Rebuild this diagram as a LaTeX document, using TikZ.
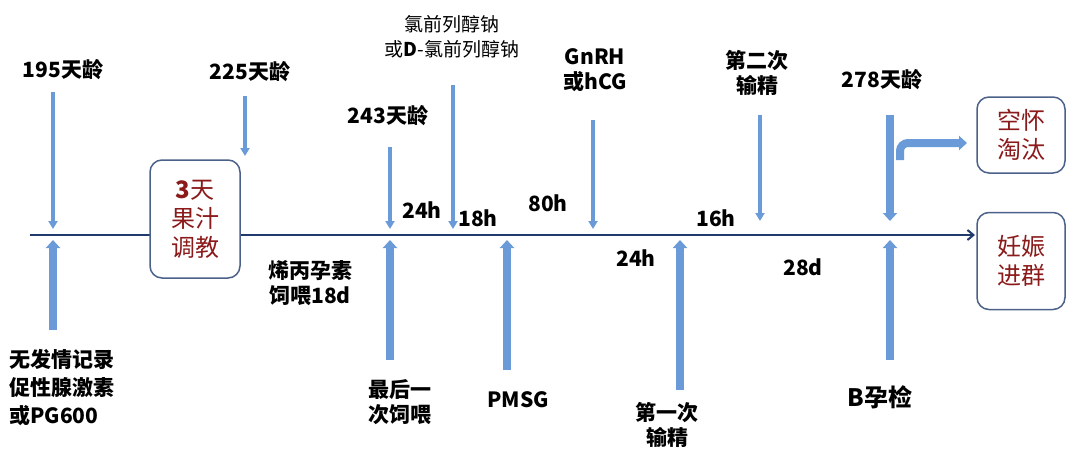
\documentclass[tikz,border=0pt]{standalone}
\usepackage{fontspec}
\setmainfont{Noto Sans CJK SC}
\usetikzlibrary{arrows.meta}
\definecolor{arrblue}{HTML}{6A9BD8}
\definecolor{linenavy}{HTML}{1F3A6B}
\definecolor{boxred}{HTML}{8B1A1A}
\tikzset{
  lbl/.style={font=\fontsize{21}{25}\selectfont\bfseries, align=center, inner sep=1pt},
  stepbox/.style={draw=linenavy!80, line width=1.5pt, rounded corners=12pt, text=boxred,
    font=\fontsize{24}{29}\selectfont, align=center, fill=white},
  thin arr/.style={draw=arrblue, line width=4pt, -{Triangle[width=9pt,length=8pt]}},
  wide arr/.style={draw=arrblue, line width=8pt, -{Triangle[width=14pt,length=8pt]}}
}
\begin{document}
\begin{tikzpicture}[x=1pt,y=-1pt]
\useasboundingbox (0,0) rectangle (1080,463);
% timeline
\coordinate (t0) at (30,235);
\coordinate (t1) at (975,235);
\draw[linenavy, line width=2pt, -{Straight Barb[length=6pt,width=10pt]}] (t0) -- (t1);
\node[stepbox, minimum width=90pt, minimum height=118pt] (juice) at (195,219) {{\bfseries 3}天\\果汁\\调教};
\node[stepbox, minimum width=88pt, minimum height=76pt] (empty) at (1021,135) {空怀\\淘汰};
\node[stepbox, minimum width=88pt, minimum height=97pt] (preg) at (1021,261) {妊娠\\进群};
% arrows from above
\foreach \x/\a/\b in {53/92/229, 245/96/156, 390/147/229, 453/85/229, 593/120/229, 760/115/221}
  \draw[thin arr] (\x,\a) -- (\x,\b);
\draw[wide arr] (890,115) -- (890,221);
\draw[wide arr, rounded corners=8pt] (900,160) -- (900,143) -- (967,143);
% arrows from below
\foreach \x/\a in {53/330, 390/360, 507/370, 680/390, 890/360}
  \draw[wide arr] (\x,\a) -- (\x,240);
% labels
\node[lbl] (l195) at (63,70) {195天龄};
\node[lbl] (l225) at (250,72) {225天龄};
\node[lbl] (l243) at (388,116) {243天龄};
\node[lbl, font=\fontsize{19}{25}\selectfont] (lclo) at (452,37) {氯前列醇钠\\或\textit{\bfseries D}-氯前列醇钠};
\node[lbl] (lgn) at (595,70) {GnRH\\或hCG};
\node[lbl] (lai2) at (757,73) {第二次\\输精};
\node[lbl] (l278) at (882,80) {278天龄};
\node[lbl] (h24a) at (422,210) {24h};
\node[lbl] (h18) at (478,218) {18h};
\node[lbl] (h80) at (548,203) {80h};
\node[lbl] (h16) at (716,218) {16h};
\node[lbl] (h24b) at (636,258) {24h};
\node[lbl] (d28) at (803,267) {28d};
\node[lbl] (feed) at (310,283) {烯丙孕素\\饲喂18d};
\node[lbl, align=left, anchor=west, font=\fontsize{21}{28}\selectfont\bfseries] (noe) at (8,388) {无发情记录\\促性腺激素\\或PG600};
\node[lbl] (last) at (400,402) {最后一\\次饲喂};
\node[lbl] (pmsg) at (518,400) {PMSG};
\node[lbl] (lai1) at (667,425) {第一次\\输精};
\node[lbl, font=\fontsize{24}{28}\selectfont\bfseries] (bscan) at (880,397) {B孕检};
\end{tikzpicture}
\end{document}
